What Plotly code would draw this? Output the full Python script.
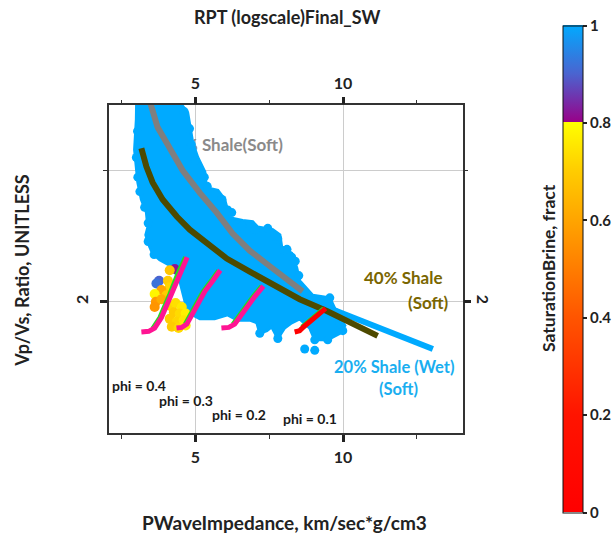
import plotly.graph_objects as go

# ---------------- data ----------------
# envelope of the dense, fully brine-saturated sample cloud (Sw = 1)
cloud_ip = [3.01, 3.00, 2.94, 3.00, 3.05, 3.17, 3.34, 3.39, 3.32, 3.45, 3.55, 3.79, 4.03, 4.20,
            4.47, 4.64, 4.74, 5.15, 5.65, 6.09, 6.43, 6.84, 7.08, 7.18, 7.42, 7.58, 7.79, 8.02,
            8.26, 8.53, 8.87, 9.04, 9.48, 9.89, 10.06, 9.82, 9.72, 9.55, 8.97, 8.80, 8.53, 8.43,
            8.26, 7.92, 7.86, 7.62, 7.11, 6.94, 6.60, 6.16, 6.05, 5.99, 5.76, 5.37, 5.32, 5.08,
            4.91, 4.81, 4.74, 4.54, 4.54]
cloud_vpvs = [3.54, 3.39, 3.16, 3.03, 2.91, 2.78, 2.68, 2.57, 2.51, 2.42, 2.37, 2.32, 2.29, 2.27,
              2.16, 2.00, 1.92, 1.87, 1.87, 1.90, 1.86, 1.86, 1.84, 1.76, 1.78, 1.81, 1.72, 1.80,
              1.84, 1.87, 1.80, 1.71, 1.71, 1.76, 1.82, 1.90, 1.95, 2.03, 2.05, 2.09, 2.16, 2.26,
              2.37, 2.42, 2.51, 2.55, 2.57, 2.61, 2.62, 2.64, 2.72, 2.78, 2.85, 2.87, 2.99, 3.10,
              3.21, 3.33, 3.44, 3.50, 3.54]

# individual brine samples around the cloud edge
edge_ip = [9.55, 9.72, 9.89, 9.99, 9.48, 9.04, 8.70, 9.04, 6.57, 7.01, 7.45, 7.79, 8.02, 8.26,
           6.09, 6.23, 7.18, 7.79, 3.04, 3.00, 3.05, 3.12, 3.28, 3.40, 3.40, 3.60, 4.62, 4.80,
           4.86, 5.00, 5.30, 5.40, 5.90, 6.02, 8.50, 8.38, 8.10, 7.70]
edge_vpvs = [2.03, 1.92, 1.84, 1.78, 1.71, 1.71, 1.64, 1.63, 2.58, 2.55, 2.56, 2.48, 2.39, 2.34,
             2.70, 2.68, 1.76, 1.72, 3.30, 3.10, 2.95, 2.84, 2.72, 2.60, 2.46, 2.36, 3.45, 3.32,
             3.20, 3.08, 2.95, 2.88, 2.78, 2.68, 2.20, 2.31, 2.40, 2.50]

# partially saturated samples
gas_ip = [4.30, 4.13, 3.77, 3.68, 4.07, 4.13, 3.85, 3.62, 4.02, 3.66, 3.62, 3.85,
          4.13, 4.33, 4.54, 4.27, 4.47, 4.67, 4.13, 4.37, 4.60, 4.20, 4.43, 4.67]
gas_vpvs = [2.25, 2.24, 2.16, 2.14, 2.16, 2.11, 2.09, 2.06, 2.05, 2.00, 1.96, 2.02,
            1.97, 1.99, 1.96, 1.92, 1.91, 1.91, 1.87, 1.85, 1.86, 1.81, 1.80, 1.82]
gas_sw = [0.82, 0.68, 0.90, 0.92, 0.70, 0.72, 0.60, 0.78, 0.70, 0.57, 0.56, 0.62,
          0.72, 0.74, 0.76, 0.70, 0.73, 0.77, 0.70, 0.72, 0.75, 0.70, 0.73, 0.76]

# rock-physics template lines
shale_ip = [3.44, 3.72, 4.03, 4.57, 5.15, 5.72, 6.26, 6.84, 7.41, 7.96, 8.63]
shale_vpvs = [3.54, 3.33, 3.21, 3.00, 2.83, 2.68, 2.52, 2.39, 2.29, 2.19, 2.08]

shale40_ip = [3.17, 3.34, 3.55, 3.89, 4.37, 4.81, 5.38, 6.06, 6.84, 7.62, 8.53, 9.45, 10.39, 11.17]
shale40_vpvs = [3.17, 3.03, 2.91, 2.78, 2.65, 2.55, 2.45, 2.33, 2.23, 2.13, 2.02, 1.93, 1.82, 1.74]

shale20_ip = [8.53, 9.55, 11.24, 12.09, 13.04]
shale20_vpvs = [2.04, 1.95, 1.80, 1.72, 1.64]

phi04_ip = [3.17, 3.42, 3.62, 3.85, 4.19, 4.47, 4.72]
phi04_vpvs = [1.77, 1.775, 1.80, 1.88, 2.06, 2.22, 2.34]
phi03_ip = [4.36, 4.54, 4.71, 4.98, 5.32, 5.59, 5.84]
phi03_vpvs = [1.80, 1.805, 1.83, 1.94, 2.08, 2.16, 2.24]
phi02_ip = [5.88, 6.13, 6.33, 6.67, 7.01, 7.30]
phi02_vpvs = [1.80, 1.805, 1.83, 1.94, 2.04, 2.12]
phi01_ip = [8.36, 8.53, 8.67, 9.04, 9.41]
phi01_vpvs = [1.77, 1.78, 1.81, 1.88, 1.95]

# companion (green) template lines just under the phi lines
g04_ip = [3.55, 3.78, 4.12, 4.40, 4.65]
g04_vpvs = [1.80, 1.88, 2.06, 2.22, 2.34]
g03_ip = [4.64, 4.91, 5.25, 5.52, 5.77]
g03_vpvs = [1.83, 1.94, 2.08, 2.16, 2.24]
g02_ip = [6.26, 6.60, 6.94, 7.23]
g02_vpvs = [1.83, 1.94, 2.04, 2.12]
g01_ip = [8.60, 8.97, 9.34]
g01_vpvs = [1.81, 1.88, 1.95]

x_ticks = [5, 10]
x_minor = [2.5, 7.5, 12.5]
y_ticks = [2]
y_minor = [3]
cbar_ticks = [0, 0.2, 0.4, 0.6, 0.8, 1.0]
cbar_text = ["0", "0.2", "0.4", "0.6", "0.8", "1"]

# ---------------- styling ----------------
FONT = "Lato"
TXT = "#222222"
BLUE = "#00aaff"
cscale = [[0.0, "#ff0000"], [0.2, "#ff1400"], [0.4, "#ff5500"], [0.6, "#ffa500"],
          [0.7, "#ffcc00"], [0.8, "#ffff00"], [0.8001, "#990088"], [0.9, "#4a64d0"],
          [1.0, BLUE]]

def bfont(size, color=TXT):
    return dict(family=FONT, size=size, color=color, weight="bold")

fig = go.Figure()

# label hidden partly behind the cloud
fig.add_trace(go.Scatter(x=[7.96], y=[3.18], mode="text", text=["100% Shale(Soft)"],
                         textposition="middle left", textfont=bfont(17, "#8a8a8a"),
                         showlegend=False, hoverinfo="skip"))

fig.add_trace(go.Scatter(x=cloud_ip, y=cloud_vpvs, mode="lines", fill="toself",
                         fillcolor=BLUE, line=dict(color=BLUE, width=3),
                         showlegend=False, hoverinfo="skip"))
fig.add_trace(go.Scatter(x=edge_ip, y=edge_vpvs, mode="markers",
                         marker=dict(color=BLUE, size=9, line=dict(width=0)),
                         showlegend=False))

fig.add_trace(go.Scatter(x=shale20_ip, y=shale20_vpvs, mode="lines",
                         line=dict(color=BLUE, width=6), showlegend=False))
fig.add_trace(go.Scatter(x=shale_ip, y=shale_vpvs, mode="lines",
                         line=dict(color="#7f7f7f", width=6), showlegend=False))
fig.add_trace(go.Scatter(x=shale40_ip, y=shale40_vpvs, mode="lines",
                         line=dict(color="#4d4a00", width=6), showlegend=False))

fig.add_trace(go.Scatter(
    x=gas_ip, y=gas_vpvs, mode="markers",
    marker=dict(color=gas_sw, colorscale=cscale, cmin=0, cmax=1, size=10,
                line=dict(width=0), showscale=True,
                colorbar=dict(x=1.2833, xanchor="left", xpad=0, ypad=0,
                              y=0.5, yanchor="middle", len=487, lenmode="pixels",
                              thickness=20, thicknessmode="pixels",
                              outlinecolor="#111111", outlinewidth=1,
                              tickvals=cbar_ticks, ticktext=cbar_text,
                              ticks="outside", ticklen=4, tickwidth=1.5,
                              tickcolor="#222222", tickfont=bfont(15))),
    showlegend=False))

for gx, gy in [(g04_ip, g04_vpvs), (g03_ip, g03_vpvs), (g02_ip, g02_vpvs), (g01_ip, g01_vpvs)]:
    fig.add_trace(go.Scatter(x=gx, y=gy, mode="lines", line=dict(color="#22dd22", width=4),
                             showlegend=False))
for px_, py_, col in [(phi04_ip, phi04_vpvs, "#ff1493"), (phi03_ip, phi03_vpvs, "#ff1493"),
                      (phi02_ip, phi02_vpvs, "#ff1493"), (phi01_ip, phi01_vpvs, "#ff0000")]:
    fig.add_trace(go.Scatter(x=px_, y=py_, mode="lines", line=dict(color=col, width=5),
                             showlegend=False))

# helper trace for the top / right axes
fig.add_trace(go.Scatter(x=[None], y=[None], xaxis="x2", yaxis="y2", showlegend=False,
                         hoverinfo="skip"))

XR = [2.074, 14.06]
YR = [1.0, 3.5]
common_x = dict(range=XR, tickvals=x_ticks, ticks="outside", ticklen=7, tickwidth=2.5,
                tickcolor="#222222", zeroline=False, tickfont=bfont(16), ticklabelstandoff=2,
                minor=dict(tickvals=x_minor, ticks="outside", ticklen=4, tickwidth=1.2,
                           tickcolor="#333333", showgrid=False))
common_y = dict(range=YR, tickvals=y_ticks, ticktext=["2"], ticks="outside", ticklen=7,
                tickwidth=2.5, tickcolor="#222222", zeroline=False, tickfont=bfont(16))

fig.update_layout(
    width=615, height=533, paper_bgcolor="white", plot_bgcolor="white",
    margin=dict(l=109, r=152, t=105, b=100, autoexpand=False),
    showlegend=False,
    xaxis=dict(**common_x, showgrid=True, gridcolor="#cccccc", gridwidth=1,
               showline=True, linecolor="#333333", linewidth=1.5, mirror=True),
    xaxis2=dict(**common_x, overlaying="x", side="top", anchor="y", showgrid=False,
                showline=False),
    yaxis=dict(**common_y, tickangle=-90, showgrid=True, gridcolor="#cccccc", gridwidth=1,
               ticklabelstandoff=6,
               showline=True, linecolor="#333333", linewidth=1.5, mirror=True,
               minor=dict(tickvals=y_minor, ticks="outside", ticklen=4, tickwidth=1.2,
                          tickcolor="#333333", showgrid=True, gridcolor="#cccccc")),
    yaxis2=dict(**common_y, tickangle=90, overlaying="y", side="right", anchor="x",
                showgrid=False, showline=False, ticklabelstandoff=0,
                minor=dict(tickvals=y_minor, ticks="outside", ticklen=4, tickwidth=1.2,
                           tickcolor="#333333", showgrid=False)),
)

ann = [
    dict(text="RPT (logscale)Final_SW", x=0.503, y=1.268, xref="paper", yref="paper",
         font=bfont(18)),
    dict(text="PWaveImpedance, km/sec*g/cm3", x=0.497, y=-0.274, xref="paper", yref="paper",
         font=bfont(19)),
    dict(text="Vp/Vs, Ratio, UNITLESS", x=-0.2466, y=0.497, xref="paper", yref="paper",
         textangle=-90, font=bfont(18)),
    dict(text="SaturationBrine, fract", x=1.240, y=0.503, xref="paper", yref="paper",
         textangle=-90, font=bfont(17.5)),
    dict(text="40% Shale", x=13.44, y=2.187, xanchor="right", font=bfont(17, "#7a6600")),
    dict(text="(Soft)", x=13.645, y=1.996, xanchor="right", font=bfont(17, "#7a6600")),
    dict(text="20% Shale (Wet)", x=11.73, y=1.50, font=bfont(16.5, "#19aef0")),
    dict(text="(Soft)", x=11.885, y=1.335, font=bfont(16.5, "#19aef0")),
    dict(text="phi = 0.4", x=3.097, y=1.363, font=bfont(14, "#1a1a1a")),
    dict(text="phi = 0.3", x=4.688, y=1.248, font=bfont(14, "#1a1a1a")),
    dict(text="phi = 0.2", x=6.483, y=1.141, font=bfont(14, "#1a1a1a")),
    dict(text="phi = 0.1", x=8.871, y=1.111, font=bfont(14, "#1a1a1a")),
]
for a in ann:
    a.setdefault("xref", "x")
    a.setdefault("yref", "y")
    a.setdefault("xanchor", "center")
    a["yanchor"] = "middle"
    a["showarrow"] = False
    fig.add_annotation(**a)

fig.write_html("out.html")
